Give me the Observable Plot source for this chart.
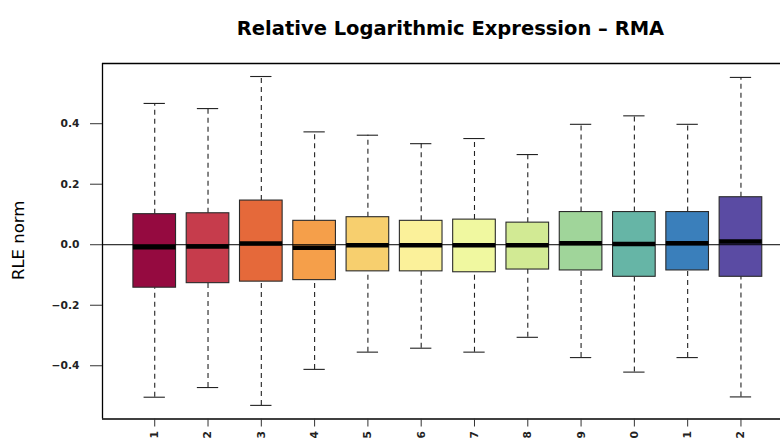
<!DOCTYPE html>
<html>
<head>
<meta charset="utf-8">
<script src="https://cdn.jsdelivr.net/npm/d3@7"></script>
<script src="https://cdn.jsdelivr.net/npm/@observablehq/plot@0.6"></script>
<style>
  html, body { margin: 0; padding: 0; background: #fff; }
  #chart { width: 780px; height: 447px; overflow: hidden; }
</style>
</head>
<body>
<div id="chart"></div>
<script>
const title = "Relative Logarithmic Expression \u2013 RMA";
const yLabel = "RLE norm";
const samples = [1, 2, 3, 4, 5, 6, 7, 8, 9, 10, 11, 12];
const sampleLabels = ["1", "2", "3", "4", "5", "6", "7", "8", "9", "0", "1", "2"];
const lowerWhisker = [-0.504, -0.472, -0.531, -0.412, -0.355, -0.342, -0.355, -0.306, -0.373, -0.421, -0.373, -0.503];
const q1 = [-0.142, -0.127, -0.122, -0.117, -0.088, -0.088, -0.091, -0.082, -0.085, -0.106, -0.085, -0.106];
const median = [-0.008, -0.006, 0.004, -0.010, -0.002, -0.002, -0.002, -0.002, 0.005, 0.002, 0.005, 0.011];
const q3 = [0.101, 0.104, 0.146, 0.079, 0.091, 0.079, 0.083, 0.073, 0.108, 0.108, 0.108, 0.157];
const upperWhisker = [0.467, 0.450, 0.556, 0.373, 0.362, 0.334, 0.351, 0.298, 0.398, 0.426, 0.398, 0.553];
const boxColors = ["#950A40", "#C63C4C", "#E5693A", "#F59F4A", "#F7CF6E", "#FBF19A",
                   "#F0F8A0", "#D2EA94", "#A0D59A", "#66B5A6", "#3A7FBB", "#5A4BA3"];
const yTicks = [-0.4, -0.2, 0.0, 0.2, 0.4];

const rows = samples.map((s, i) => ({
  s, lo: lowerWhisker[i], q1: q1[i], med: median[i], q3: q3[i], hi: upperWhisker[i], color: boxColors[i]
}));

const xDomain = [0.02, 12.742];
const yDomain = [-0.576, 0.599];
const boxHalf = 0.4, capHalf = 0.2;
const font = "DejaVu Sans, Liberation Sans, sans-serif";
const fmt = d => (d < 0 ? "\u2212" : "") + Math.abs(d).toFixed(1);

const chart = Plot.plot({
  width: 780,
  height: 447,
  marginLeft: 102,
  marginRight: 0,
  marginTop: 63,
  marginBottom: 28.5,
  style: { fontFamily: font, background: "#fff", overflow: "hidden" },
  x: { type: "linear", domain: xDomain, axis: null },
  y: { domain: yDomain, axis: null },
  marks: [
    // whiskers (dashed)
    Plot.ruleX(rows, { x: "s", y1: "q3", y2: "hi", stroke: "#222", strokeWidth: 1.1, strokeDasharray: "5,4" }),
    Plot.ruleX(rows, { x: "s", y1: "lo", y2: "q1", stroke: "#222", strokeWidth: 1.1, strokeDasharray: "5,4" }),
    // caps
    Plot.ruleY(rows, { y: "hi", x1: d => d.s - capHalf, x2: d => d.s + capHalf, stroke: "#222", strokeWidth: 1.1 }),
    Plot.ruleY(rows, { y: "lo", x1: d => d.s - capHalf, x2: d => d.s + capHalf, stroke: "#222", strokeWidth: 1.1 }),
    // boxes
    Plot.rect(rows, { x1: d => d.s - boxHalf, x2: d => d.s + boxHalf, y1: "q1", y2: "q3",
      fill: "color", stroke: "#2a2a2a", strokeWidth: 1.1 }),
    // zero line
    Plot.ruleY([0], { stroke: "#000", strokeWidth: 1 }),
    // medians
    Plot.ruleY(rows, { y: "med", x1: d => d.s - boxHalf, x2: d => d.s + boxHalf, stroke: "#000", strokeWidth: 4.5 }),
    // plot border: left, top, bottom
    Plot.ruleX([xDomain[0]], { stroke: "#000", strokeWidth: 1.3 }),
    Plot.ruleY([yDomain[0], yDomain[1]], { stroke: "#000", strokeWidth: 1.3 }),
    // axes
    Plot.axisY({ ticks: yTicks, tickFormat: fmt, tickSize: 12, tickPadding: 11, label: null,
      fontSize: 10.7, fontWeight: "bold", stroke: "#333", fill: "#222" }),
    Plot.axisX({ ticks: samples, tickFormat: d => sampleLabels[d - 1], tickSize: 8, tickPadding: 4,
      label: null, tickRotate: -90, fontSize: 10.7, fontWeight: "bold", stroke: "#333", fill: "#222" }),
    // y label
    Plot.text([yLabel], { frameAnchor: "left", y: 0.0145, dx: -84, rotate: -90,
      fontSize: 16.5, fill: "#000", textAnchor: "middle" }),
    // title
    Plot.text([title], { frameAnchor: "top", dx: 9, dy: -42.5, fontSize: 19.5,
      fontWeight: "bold", fill: "#000", textAnchor: "middle" })
  ]
});

document.getElementById("chart").appendChild(chart);
</script>
</body>
</html>
